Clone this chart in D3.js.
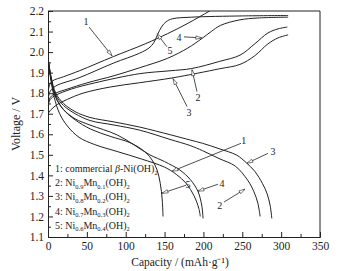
<!DOCTYPE html>
<html><head><meta charset="utf-8">
<script src="https://cdn.jsdelivr.net/npm/d3@7"></script>
<style>body{margin:0;background:#fff} svg{display:block}</style>
</head><body><svg id="c" width="339" height="271"></svg>
<script>
// ---- data: [capacity mAh/g, voltage V] ----
const charge1 = [[0,1.80],[2,1.84],[6,1.86],[20,1.88],[41,1.91],[84,1.978],[125,2.04],[154,2.09],[180,2.14],[208,2.2],[220,2.225]];
const charge2 = [[0,1.74],[3,1.77],[10,1.79],[30,1.82],[60,1.85],[118,1.895],[157,1.909],[185,1.92],[221,1.955],[247,1.985],[266,2.04],[283,2.093],[296,2.113],[308,2.122]];
const charge3 = [[0,1.70],[4,1.72],[12,1.745],[25,1.77],[45,1.80],[80,1.83],[118,1.851],[161,1.875],[221,1.919],[247,1.94],[266,1.982],[283,2.04],[296,2.069],[309,2.084]];
const charge4 = [[0,1.75],[3,1.78],[10,1.80],[25,1.82],[50,1.85],[85,1.885],[118,1.924],[154,1.97],[180,2.02],[198,2.066],[210,2.1],[222,2.13],[247,2.157],[270,2.166],[309,2.170]];
const charge5 = [[0,1.77],[3,1.81],[10,1.835],[40,1.875],[84,1.946],[118,1.995],[130,2.02],[136,2.045],[141,2.085],[146,2.122],[152,2.148],[160,2.162],[185,2.17],[250,2.176],[309,2.178]];

const discharge1 = [[0,1.97],[3,1.88],[8,1.78],[15,1.70],[25,1.64],[40,1.585],[60,1.55],[90,1.515],[120,1.48],[150,1.44],[165,1.405],[178,1.36],[188,1.30],[194,1.24],[196,1.2]];
const discharge2 = [[0,1.96],[4,1.87],[10,1.79],[20,1.74],[35,1.70],[54,1.667],[85,1.645],[118,1.62],[157,1.575],[183,1.545],[199,1.52],[220,1.482],[241,1.445],[257,1.376],[265,1.32],[270,1.265],[273,1.2]];
const discharge3 = [[0,1.97],[4,1.88],[10,1.80],[20,1.75],[35,1.71],[54,1.682],[85,1.66],[118,1.635],[158,1.597],[183,1.572],[199,1.556],[220,1.53],[243,1.498],[255,1.462],[266,1.42],[276,1.36],[282,1.31],[286,1.25],[288,1.19]];
const discharge4 = [[0,1.97],[4,1.87],[10,1.78],[20,1.72],[35,1.675],[54,1.645],[90,1.595],[131,1.50],[150,1.467],[170,1.425],[183,1.38],[193,1.322],[198,1.25],[199.5,1.19]];
const discharge5 = [[0,1.98],[4,1.87],[10,1.78],[20,1.72],[35,1.67],[55,1.625],[80,1.59],[105,1.56],[123,1.52],[133,1.48],[140,1.43],[144.5,1.36],[147,1.28],[148,1.2]];

// curve labels: [text, label cap, label V, arrow-start cap, V, arrow-tip cap, V]
const chargeLabels = [
  ["1",49,2.147,52.8,2.122,82.4,1.982],
  ["5",157,2.006,153,2.026,140.3,2.089],
  ["4",168.6,2.069,175,2.074,198,2.069],
  ["2",193,1.779,191.7,1.808,185.3,1.914],
  ["3",181.4,1.706,178.9,1.735,160.9,1.871]
];
const dischargeLabels = [
  ["1",252,1.57,248.4,1.556,159.6,1.42],
  ["3",289.5,1.517,283,1.507,256,1.459],
  ["4",224,1.362,218.8,1.357,193,1.323],
  ["2",221,1.255,226.5,1.27,253.5,1.333],
  ["5",180,1.357,177.6,1.352,146.7,1.313]
];

const xMajor = [0,50,100,150,200,250,300,350];
const xMinor = [25,75,125,175,225,275,325];
const yMajor = [1.1,1.2,1.3,1.4,1.5,1.6,1.7,1.8,1.9,2.0,2.1,2.2];
const yMinor = [1.15,1.25,1.35,1.45,1.55,1.65,1.75,1.85,1.95,2.05,2.15];

const legendNums = ["1","2","3","4","5"];
const legendNi = [null,"0.9","0.8","0.7","0.6"];
const legendMn = [null,"0.1","0.2","0.3","0.4"];

// ---- drawing ----
const svg = d3.select("#c");
const L=48, R=320, T=11, B=237;
const x = d3.scaleLinear([0,350],[L,R]);
const y = d3.scaleLinear([1.1,2.2],[B,T]);
const ink = "#222";
const serif = "'Liberation Serif','Times New Roman',serif";

svg.append("rect").attr("width",339).attr("height",271).attr("fill","#fff");
svg.append("clipPath").attr("id","clip").append("rect")
  .attr("x",L).attr("y",T).attr("width",R-L).attr("height",B-T);

// frame
svg.append("path").attr("d",`M${L},${T}H${R}V${B}`).attr("fill","none").attr("stroke",ink).attr("stroke-width",1);

svg.append("g").attr("transform",`translate(${L},0)`)
  .call(d3.axisLeft(y).tickValues(yMajor).tickSize(-5).tickPadding(4).tickFormat(d3.format(".1f")));
svg.append("g").attr("transform",`translate(${L},0)`)
  .call(d3.axisLeft(y).tickValues(yMinor).tickSize(-3).tickFormat(""))
  .call(g=>g.select(".domain").remove());
svg.append("g").attr("transform",`translate(0,${B})`)
  .call(d3.axisBottom(x).tickValues(xMajor).tickSize(-5).tickPadding(5).tickFormat(d3.format("d")));
svg.append("g").attr("transform",`translate(0,${B})`)
  .call(d3.axisBottom(x).tickValues(xMinor).tickSize(-3).tickFormat(""))
  .call(g=>g.select(".domain").remove());
svg.selectAll(".tick line, .domain").attr("stroke",ink);
svg.selectAll(".tick text").attr("font-family",serif).attr("font-size",11.5).attr("fill",ink);

// axis titles
svg.append("text").attr("x",180).attr("y",266).attr("text-anchor","middle")
  .attr("font-family",serif).attr("font-size",11.5).attr("fill",ink)
  .text("Capacity / (mAh·g⁻¹)");
svg.append("text").attr("transform",`translate(20,${(T+B)/2}) rotate(-90)`).attr("text-anchor","middle")
  .attr("font-family",serif).attr("font-size",12).attr("fill",ink)
  .text("Voltage / V");

// curves
const line = d3.line().x(d=>x(d[0])).y(d=>y(d[1])).curve(d3.curveCatmullRom.alpha(0.5));
const curves = [charge1,charge2,charge3,charge4,charge5,discharge1,discharge2,discharge3,discharge4,discharge5];
svg.append("g").attr("clip-path","url(#clip)").selectAll("path").data(curves).join("path")
  .attr("d",line).attr("fill","none").attr("stroke",ink).attr("stroke-width",1);

// labels + arrows
function arrow(g, a){
  const x1=x(a[3]), y1=y(a[4]), x2=x(a[5]), y2=y(a[6]);
  const ang=Math.atan2(y2-y1,x2-x1), len=6, w=1.7;
  const bx=x2-len*Math.cos(ang), by=y2-len*Math.sin(ang);
  const px=-Math.sin(ang)*w, py=Math.cos(ang)*w;
  g.append("path").attr("d",`M${x1},${y1}L${x2},${y2}`).attr("stroke",ink).attr("stroke-width",0.8).attr("fill","none");
  g.append("path").attr("d",`M${bx+px},${by+py}L${x2},${y2}L${bx-px},${by-py}Z`)
    .attr("stroke",ink).attr("stroke-width",0.6).attr("fill","#fff");
  g.append("text").attr("x",x(a[1])).attr("y",y(a[2])+3.5).attr("text-anchor","middle")
    .attr("font-family",serif).attr("font-size",10).attr("fill",ink).text(a[0]);
}
const ag = svg.append("g");
chargeLabels.concat(dischargeLabels).forEach(a=>arrow(ag,a));

// legend
const lg = svg.append("g").attr("font-family",serif).attr("font-size",10).attr("fill",ink);
legendNums.forEach((n,i)=>{
  const t = lg.append("text").attr("x",55).attr("y",172+i*14.2);
  if(i===0){
    t.append("tspan").text(n+": commercial ");
    t.append("tspan").attr("font-style","italic").text("β");
    t.append("tspan").text("-Ni(OH)");
    t.append("tspan").attr("font-size",6.5).attr("dy",2.5).text("2");
  } else {
    t.append("tspan").text(n+": Ni");
    t.append("tspan").attr("font-size",6.5).attr("dy",2.5).text(legendNi[i]);
    t.append("tspan").attr("dy",-2.5).text("Mn");
    t.append("tspan").attr("font-size",6.5).attr("dy",2.5).text(legendMn[i]);
    t.append("tspan").attr("dy",-2.5).text("(OH)");
    t.append("tspan").attr("font-size",6.5).attr("dy",2.5).text("2");
  }
});
</script></body></html>
